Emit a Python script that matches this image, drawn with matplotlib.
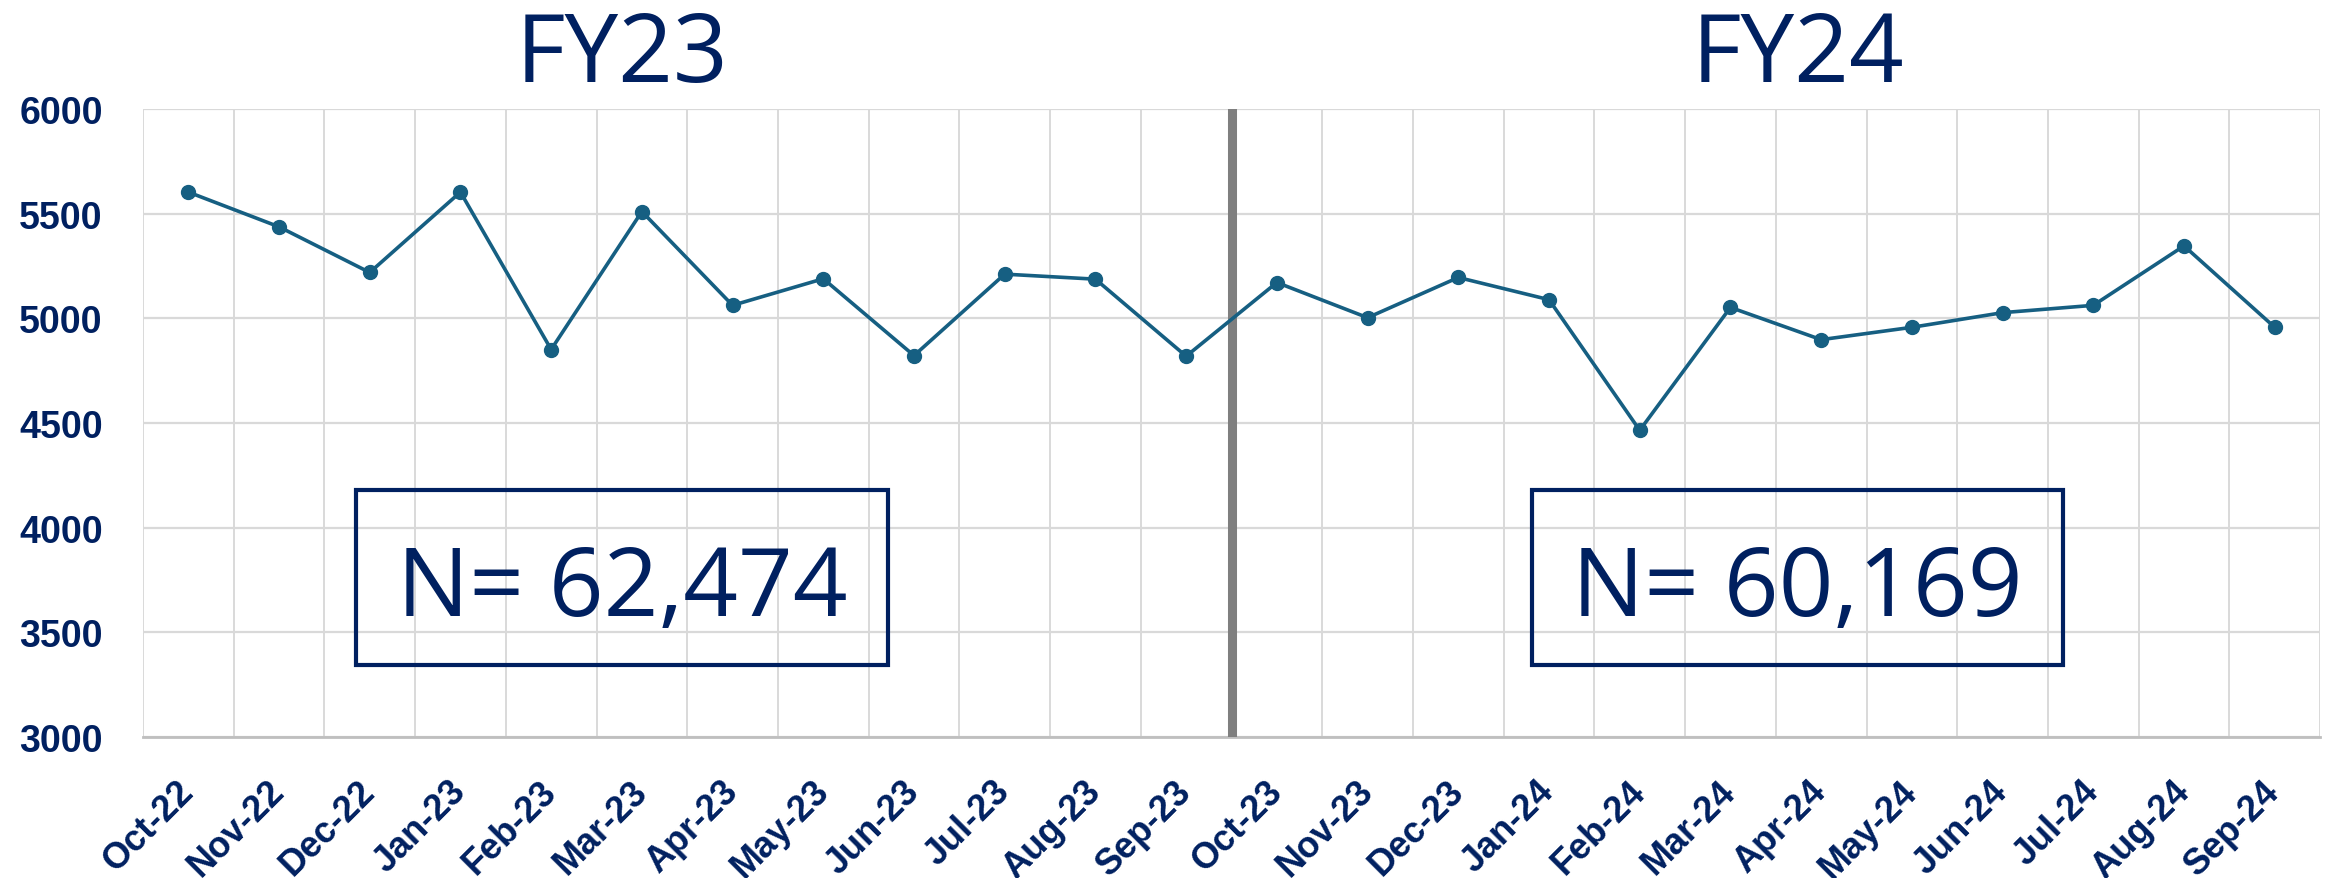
import matplotlib
matplotlib.use("Agg")
import matplotlib.pyplot as plt
from matplotlib.patches import Rectangle

# monthly counts, Oct-22 .. Sep-24
months = ["Oct-22", "Nov-22", "Dec-22", "Jan-23", "Feb-23", "Mar-23",
          "Apr-23", "May-23", "Jun-23", "Jul-23", "Aug-23", "Sep-23",
          "Oct-23", "Nov-23", "Dec-23", "Jan-24", "Feb-24", "Mar-24",
          "Apr-24", "May-24", "Jun-24", "Jul-24", "Aug-24", "Sep-24"]
counts = [5603, 5437, 5219, 5603, 4851, 5510, 5062, 5189, 4822, 5211, 5187, 4819,
          5171, 5003, 5195, 5089, 4465, 5052, 4898, 4957, 5027, 5062, 5346, 4957]
year_labels = ["FY23", "FY24"]
year_totals = ["N= 62,474", "N= 60,169"]
y_ticks = [3000, 3500, 4000, 4500, 5000, 5500, 6000]

navy = "#002060"
line_col = "#165f82"
grid_col = "#d9d9d9"

fig = plt.figure(figsize=(23.28, 8.79), dpi=100)
ax = fig.add_axes([0.0614, 0.1604, 0.9352, 0.7145])

x = list(range(len(months)))
ax.plot(x, counts, color=line_col, lw=2.6, marker="o", ms=10, zorder=4)

ax.set_xlim(-0.5, len(months) - 0.5)
ax.set_ylim(3000, 6000)
ax.set_yticks(y_ticks)
ax.set_yticklabels([str(v) for v in y_ticks], fontfamily="Liberation Sans",
                   fontweight="bold", fontsize=27, color=navy)
ax.tick_params(axis="y", length=0, pad=29)

ax.set_xticks(x)
ax.set_xticklabels(months, rotation=45, ha="right", va="center", rotation_mode="anchor",
                   fontfamily="Liberation Sans", fontweight="bold", fontsize=26, color=navy)
ax.tick_params(axis="x", length=0, pad=35)

# gridlines: horizontal at ticks, vertical between categories
for v in y_ticks:
    ax.axhline(v, color=grid_col, lw=1.6, zorder=1)
for i in range(len(months) + 1):
    ax.axvline(i - 0.5, color=grid_col, lw=1.4, zorder=1)

for s in ["top", "right", "left"]:
    ax.spines[s].set_visible(False)
ax.spines["bottom"].set_color("#bfbfbf")
ax.spines["bottom"].set_linewidth(2)

# fiscal year divider
ax.axvline(11.5, ymax=0.995, color="#7f7f7f", lw=6.5, zorder=3)

# year headers and totals
centers = [0.220, 0.760]
for cx, lab, tot in zip(centers, year_labels, year_totals):
    ax.text(cx, 1.0446, lab, transform=ax.transAxes, ha="center", va="baseline",
            fontfamily="Open Sans", fontsize=69, color=navy)
    ax.text(cx, 0.194, tot, transform=ax.transAxes, ha="center", va="baseline",
            fontfamily="Open Sans", fontsize=69, color=navy, zorder=6)
    ax.add_patch(Rectangle((cx - 0.122, 0.115), 0.244, 0.279, transform=ax.transAxes,
                           fill=True, facecolor="none", edgecolor=navy, lw=3, zorder=6))

fig.savefig("out.png", dpi=100)
